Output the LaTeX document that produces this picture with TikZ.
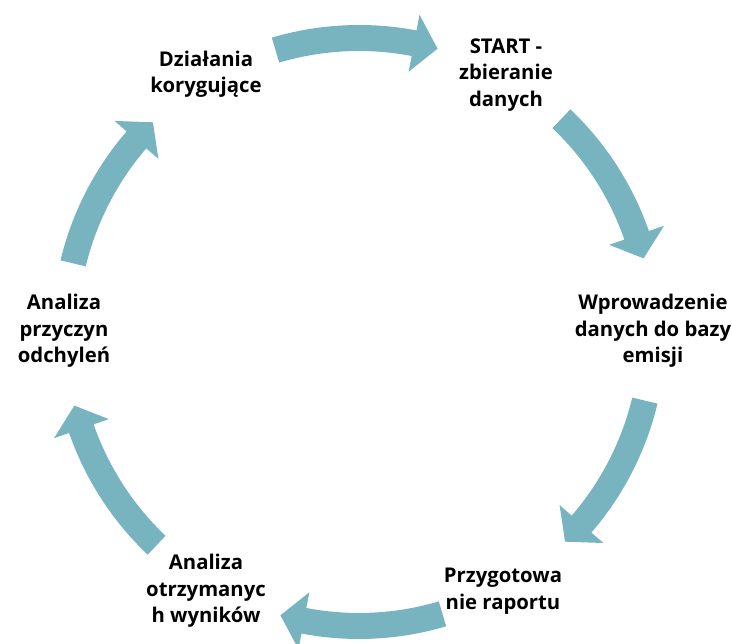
\documentclass[tikz,border=0pt]{standalone}
\usepackage{fontspec}
\setmainfont{Open Sans}
\usetikzlibrary{calc}
\definecolor{arrowcol}{RGB}{120,180,192}
\begin{document}
\begin{tikzpicture}[x=1pt,y=1pt,
  lbl/.style={align=center,font=\bfseries\fontsize{20.3}{26.5}\selectfont,text=black,inner sep=0pt},
  cyc/.style={fill=arrowcol,draw=none}]
\useasboundingbox (0,0) rectangle (732,644);
\coordinate (c) at (359,312);
% arrows
\foreach \m in {90,30,-30,-90,-150,150}{
  \pgfmathsetmacro{\ta}{\m+16.5}
  \pgfmathsetmacro{\hb}{\m-10.8}
  \pgfmathsetmacro{\tp}{\m-15.5}
  \fill[cyc] ($(c)+(\ta:307)$) arc[start angle=\ta, end angle=\hb, radius=307]
    -- ($(c)+(\hb:323)$) -- ($(c)+(\tp:294)$) -- ($(c)+(\hb:265)$) -- ($(c)+(\hb:281)$)
    arc[start angle=\hb, end angle=\ta, radius=281] -- cycle;
}
\node[lbl] (start) at (506,569) {START -\\zbieranie\\danych};
\node[lbl] (wpr) at (653,313) {Wprowadzenie\\danych do bazy\\emisji};
\node[lbl] (prz) at (503,53) {Przygotowa\\nie raportu};
\node[lbl] (aot) at (206,53) {Analiza\\otrzymanyc\\h wyników};
\node[lbl] (apr) at (64,313) {Analiza\\przyczyn\\odchyleń};
\node[lbl] (dzk) at (206,570) {Działania\\korygujące};
\end{tikzpicture}
\end{document}
